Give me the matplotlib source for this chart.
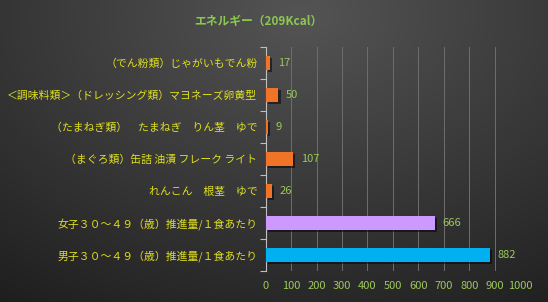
import numpy as np
import matplotlib
matplotlib.use("Agg")
import matplotlib.pyplot as plt
import matplotlib.patheffects as pe

plt.rcParams['font.family'] = ['Noto Sans CJK JP', 'DejaVu Sans']

title = "エネルギー（209Kcal）"
categories = [
    "（でん粉類）じゃがいもでん粉",
    "＜調味料類＞（ドレッシング類）マヨネーズ卵黄型",
    "（たまねぎ類）　たまねぎ　りん茎　ゆで",
    "（まぐろ類）缶詰 油漬 フレーク ライト",
    "れんこん　根茎　ゆで",
    "女子３０～４９（歳）推進量/１食あたり",
    "男子３０～４９（歳）推進量/１食あたり",
]
values = [17, 50, 9, 107, 26, 666, 882]
bar_colors = ["#f07428", "#f07428", "#f07428", "#f07428", "#f07428", "#cc99ff", "#00b0f0"]
xticks = list(range(0, 1001, 100))

fig = plt.figure(figsize=(5.48, 3.02), dpi=100)

# background gradient
bg = fig.add_axes([0, 0, 1, 1], zorder=-10)
yy, xx = np.mgrid[0:1:302j, 0:1:548j]
r = np.sqrt(((xx - 0.55) / 0.9) ** 2 + ((yy - 0.05) / 1.1) ** 2)
shade = np.clip(0.33 - 0.2 * r, 0.12, 0.33)
bg.imshow(np.dstack([shade] * 3), aspect="auto", extent=[0, 1, 0, 1])
bg.axis("off")

ax = fig.add_axes([0.485, 0.103, 0.464, 0.741])
ax.set_facecolor("none")
y = np.arange(len(categories))
bars = ax.barh(y, values, height=0.45, color=bar_colors, zorder=3)
for b in bars:
    b.set_path_effects([pe.SimplePatchShadow(offset=(1.5, -1.5), shadow_rgbFace="black", alpha=0.5), pe.Normal()])
for yi, v in zip(y, values):
    ax.text(v + 30, yi, str(v), va="center", ha="left", color="#9bc95a", fontsize=8)

ax.set_xlim(0, 1000)
ax.set_ylim(len(categories) - 0.5, -0.5)
ax.set_xticks(xticks)
ax.set_xticklabels([str(t) for t in xticks], color="#9bc95a", fontsize=8)
ax.tick_params(axis="x", length=0, pad=7)
ax.grid(axis="x", color="#6e6e6e", linewidth=0.7, zorder=0)

ax.set_yticks(y)
ax.set_yticklabels(categories, color="#e0e020", fontsize=7.8)
ax.tick_params(axis="y", length=0, pad=6)
ax.set_yticks(np.arange(-0.5, len(categories) + 0.5, 1), minor=True)
ax.tick_params(axis="y", which="minor", length=4, color="#bfbfbf", width=0.8)

for s in ["top", "right", "bottom"]:
    ax.spines[s].set_visible(False)
ax.spines["left"].set_color("#bfbfbf")
ax.spines["left"].set_linewidth(0.8)

fig.text(0.472, 0.93, title, ha="center", va="center", color="#8cc850", fontsize=8.5, fontweight="bold")

fig.savefig("out.png", dpi=100)
